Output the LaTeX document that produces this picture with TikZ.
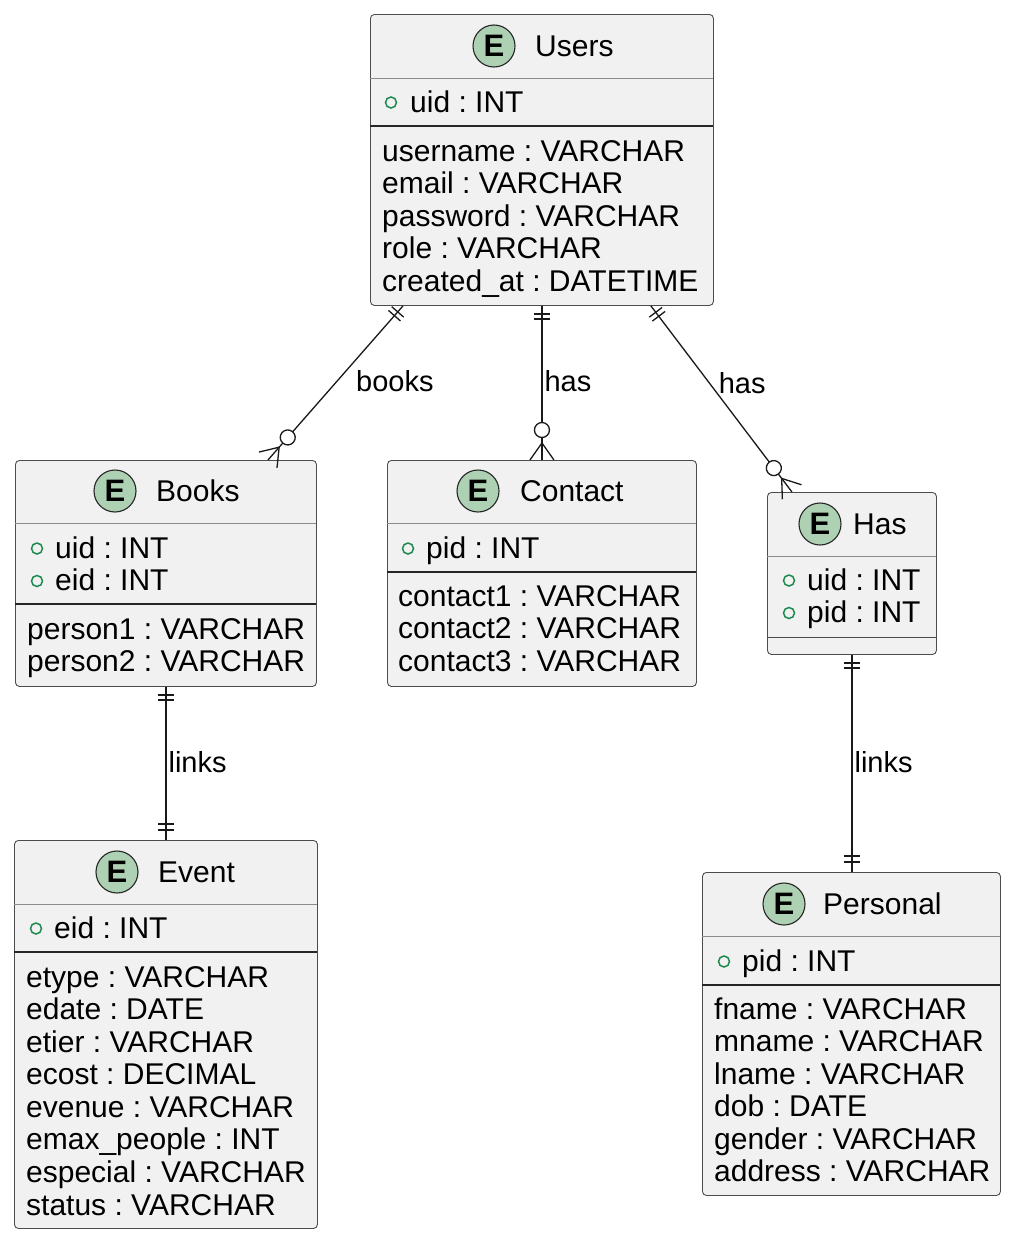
\documentclass[tikz,border=0pt]{standalone}
\usepackage{fontspec}
\setmainfont{Liberation Sans}
\usetikzlibrary{decorations.markings}
\definecolor{boxgray}{HTML}{F1F1F1}
\definecolor{badgegreen}{HTML}{ADD1B2}
\definecolor{keygreen}{HTML}{1E8A50}
\tikzset{
  entity/.style={draw=black!70, line width=0.9pt, fill=boxgray, rounded corners=4pt, inner sep=0pt, anchor=north west},
  ebadge/.style={circle, draw=black!85, line width=1.1pt, fill=badgegreen, minimum size=42pt, inner sep=0pt, font=\fontsize{31}{32}\selectfont\bfseries},
  title/.style={anchor=base west, inner sep=0pt},
  row/.style={anchor=base west, inner sep=0pt},
  key/.style={draw=keygreen, line width=1.5pt},
  septhin/.style={draw=black!45, line width=0.9pt},
  septhick/.style={draw=black!85, line width=1.6pt},
  link/.style={draw=black!90, line width=1.3pt},
  lbl/.style={anchor=west, inner sep=0pt, text height=18pt, text depth=0pt, font=\fontsize{29}{32}\selectfont},
  onefrom/.style={postaction={decorate, decoration={markings,
    mark=at position 8pt with {\draw[link] (0,-8pt) -- (0,8pt);},
    mark=at position 13pt with {\draw[link] (0,-8pt) -- (0,8pt);}}}},
  oneto/.style={postaction={decorate, decoration={markings,
    mark=at position -16pt with {\draw[link] (0,-8pt) -- (0,8pt);},
    mark=at position -10pt with {\draw[link] (0,-8pt) -- (0,8pt);}}}},
  manyto/.style={postaction={decorate, decoration={markings,
    mark=at position -30pt with {\draw[link, fill=white] (0,0) circle[radius=7.5pt];},
    mark=at position -0.01pt with {\draw[link] (-17pt,0) -- (0,-12pt) (-17pt,0) -- (0,12pt);}}}}
}
\begin{document}
\frenchspacing
\begin{tikzpicture}[x=1pt, y=-1pt, font=\fontsize{30}{32.5}\selectfont]
	\fill[white] (0,0) rectangle (1014,1242);
	\useasboundingbox (0,0) rectangle (1014,1242);
	%Users entity
	\node[entity, minimum width=343pt, minimum height=291pt] (users) at (370,14) {};
	\node[ebadge] (users-e) at (494,46) {E};
	\node[title] (users-t) at (535,56) {Users};
	\draw[septhin] (370,78) -- (713,78);
	\draw[key] (391,102.5) circle[radius=5.5pt];
	\node[row] (users-k0) at (410,112) {uid : INT};
	\draw[septhick] (370,126) -- (713,126);
	\foreach \t [count=\i from 0] in {username : VARCHAR, email : VARCHAR, password : VARCHAR, role : VARCHAR, created\_at : DATETIME}
		\node[row] (users-r\i) at (382,161+32.5*\i) {\t};
	%Books entity
	\node[entity, minimum width=301pt, minimum height=226pt] (books) at (15,460) {};
	\node[ebadge] (books-e) at (115,491) {E};
	\node[title] (books-t) at (156,501) {Books};
	\draw[septhin] (15,523) -- (316,523);
	\draw[key] (37,548.5) circle[radius=5.5pt];
	\node[row] (books-k0) at (55,558) {uid : INT};
	\draw[key] (37,581) circle[radius=5.5pt];
	\node[row] (books-k1) at (55,590.5) {eid : INT};
	\draw[septhick] (15,604) -- (316,604);
	\foreach \t [count=\i from 0] in {person1 : VARCHAR, person2 : VARCHAR}
		\node[row] (books-r\i) at (27,639+32.5*\i) {\t};
	%Contact entity
	\node[entity, minimum width=309pt, minimum height=226pt] (contact) at (387,460) {};
	\node[ebadge] (contact-e) at (478,491) {E};
	\node[title] (contact-t) at (520,501) {Contact};
	\draw[septhin] (387,523) -- (696,523);
	\draw[key] (408,548.5) circle[radius=5.5pt];
	\node[row] (contact-k0) at (426,558) {pid : INT};
	\draw[septhick] (387,572) -- (696,572);
	\foreach \t [count=\i from 0] in {contact1 : VARCHAR, contact2 : VARCHAR, contact3 : VARCHAR}
		\node[row] (contact-r\i) at (398,606+32.5*\i) {\t};
	%Has entity
	\node[entity, minimum width=169pt, minimum height=162pt] (has) at (767,492) {};
	\node[ebadge] (has-e) at (820,524) {E};
	\node[title] (has-t) at (853,534) {Has};
	\draw[septhin] (767,556) -- (936,556);
	\draw[key] (789,580.5) circle[radius=5.5pt];
	\node[row] (has-k0) at (807,590) {uid : INT};
	\draw[key] (789,613) circle[radius=5.5pt];
	\node[row] (has-k1) at (807,622.5) {pid : INT};
	\draw[septhin, draw=black!70] (767,637) -- (936,637);
	%Event entity
	\node[entity, minimum width=303pt, minimum height=388pt] (event) at (14,840) {};
	\node[ebadge] (event-e) at (117,872) {E};
	\node[title] (event-t) at (158,882) {Event};
	\draw[septhin] (14,904) -- (317,904);
	\draw[key] (36,928.5) circle[radius=5.5pt];
	\node[row] (event-k0) at (54,938) {eid : INT};
	\draw[septhick] (14,952) -- (317,952);
	\foreach \t [count=\i from 0] in {etype : VARCHAR, edate : DATE, etier : VARCHAR, ecost : DECIMAL, evenue : VARCHAR, emax\_people : INT, especial : VARCHAR, status : VARCHAR}
		\node[row] (event-r\i) at (26,987+32.57*\i) {\t};
	%Personal entity
	\node[entity, minimum width=298pt, minimum height=323pt] (personal) at (702,872) {};
	\node[ebadge] (personal-e) at (784,904) {E};
	\node[title] (personal-t) at (823,914) {Personal};
	\draw[septhin] (702,936) -- (1000,936);
	\draw[key] (724,961.5) circle[radius=5.5pt];
	\node[row] (personal-k0) at (742,971) {pid : INT};
	\draw[septhick] (702,985) -- (1000,985);
	\foreach \t [count=\i from 0] in {fname : VARCHAR, mname : VARCHAR, lname : VARCHAR, dob : DATE, gender : VARCHAR, address : VARCHAR}
		\node[row] (personal-r\i) at (714,1019+32.5*\i) {\t};
	% Relations
	\draw[link, onefrom, manyto] ([xshift=33pt]users.south west) -- node[lbl, pos=0.5, xshift=20pt] (lbl-books) {books} ([xshift=102pt]books.north);
	\draw[link, onefrom, manyto] (users.south) -- node[lbl, pos=0.5, xshift=2pt] (lbl-has1) {has} (contact.north);
	\draw[link, onefrom, manyto] ([xshift=-63pt]users.south east) -- node[lbl, pos=0.42, xshift=8pt] (lbl-has2) {has} ([xshift=-60pt]has.north);
	\draw[link, onefrom, oneto] (books.south) -- node[lbl, pos=0.5, xshift=2pt] (lbl-links1) {links} (event.north);
	\draw[link, onefrom, oneto] (has.south) -- node[lbl, pos=0.5, xshift=2pt] (lbl-links2) {links} (has.south |- personal.north);
\end{tikzpicture}
\end{document}
